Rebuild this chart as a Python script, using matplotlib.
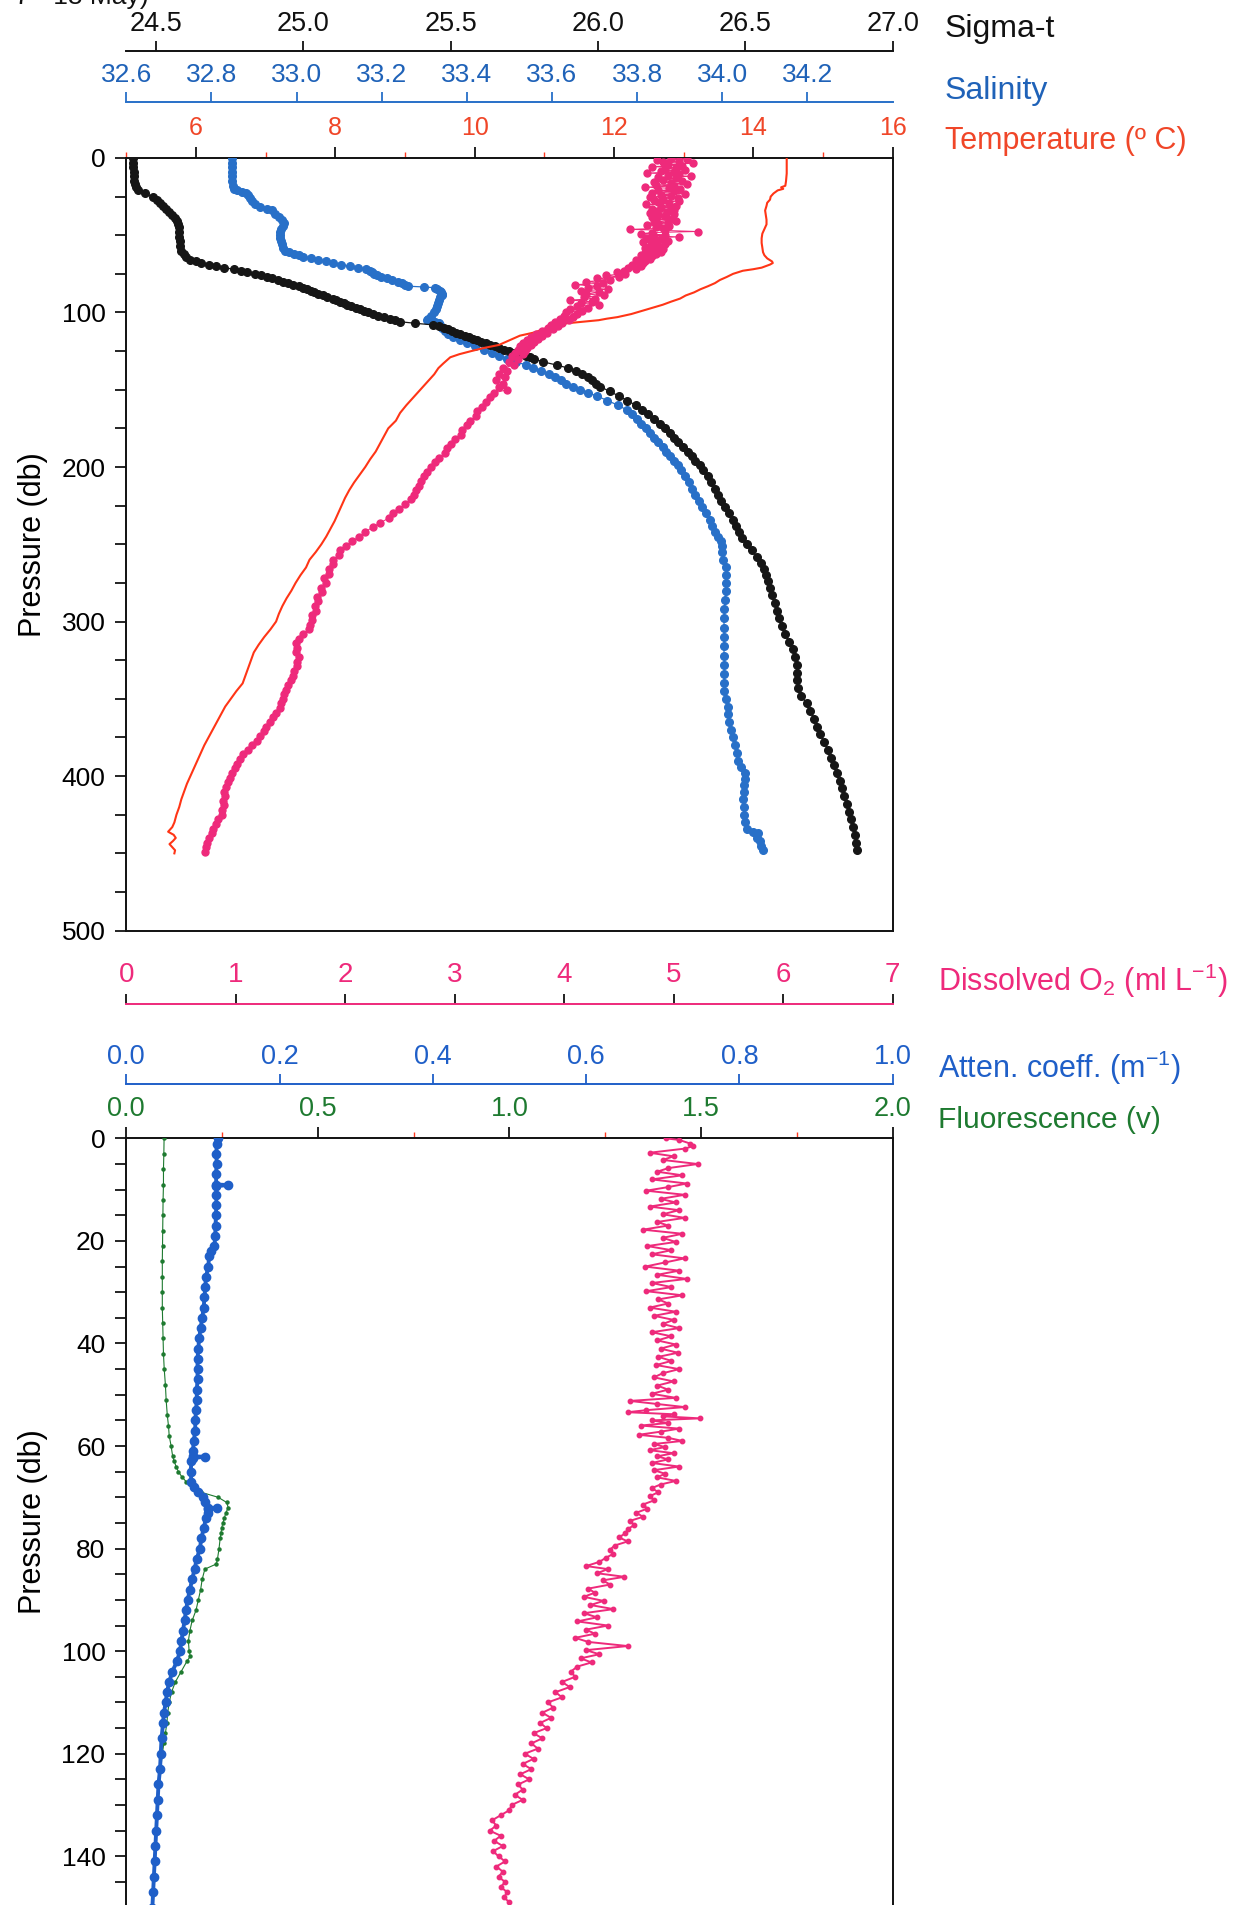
import matplotlib
matplotlib.use("Agg")
import matplotlib.pyplot as plt

plt.rcParams['font.family'] = ['Liberation Sans', 'DejaVu Sans']
plt.rcParams['mathtext.fontset'] = 'custom'
plt.rcParams['mathtext.rm'] = 'Liberation Sans'
plt.rcParams['mathtext.it'] = 'Liberation Sans:italic'

# ---------------- DATA (top panel: 0-450 db) ----------------
sigma_p = [0, 3, 6, 9, 12, 15, 17, 19, 21, 23, 25, 27, 29, 31, 33, 35, 37, 39, 41, 43, 45, 48, 51, 54, 57, 60, 62, 64, 66,
           67, 68, 69, 70, 71, 72, 73, 74, 75, 76, 77, 78, 79, 80, 81, 82, 83, 84, 85, 86, 87, 88, 89, 90, 91, 92, 93, 94,
           95, 96, 97, 98, 99, 100, 101, 102, 103, 104, 105, 106, 107, 108, 109, 110, 111, 112, 113, 114, 115, 116, 117,
           118, 119, 120, 121, 122, 123, 124, 125, 126, 127, 128, 129, 130, 132, 134, 136, 138, 140, 142, 144, 146, 148,
           151, 154, 157, 160, 163, 166, 169, 172, 175, 178, 181, 184, 187, 190, 193, 196, 199, 202, 206, 210, 214, 218,
           222, 226, 230, 234, 238, 242, 246, 250, 254, 258, 262, 266, 270, 274, 278, 283, 288, 293, 298, 303, 308, 313,
           318, 323, 328, 333, 338, 343, 348, 353, 358, 363, 368, 373, 378, 383, 388, 393, 398, 403, 408, 413, 418, 423,
           428, 433, 438, 443, 448]
sigma_v = [24.424, 24.424, 24.424, 24.425, 24.425, 24.426, 24.428, 24.432, 24.440, 24.462, 24.490, 24.505, 24.515, 24.525,
           24.535, 24.545, 24.556, 24.565, 24.571, 24.575, 24.578, 24.579, 24.580, 24.581, 24.582, 24.586, 24.595, 24.604,
           24.616, 24.635, 24.655, 24.680, 24.705, 24.730, 24.765, 24.790, 24.810, 24.835, 24.858, 24.876, 24.895, 24.915,
           24.932, 24.950, 24.965, 24.985, 25.000, 25.012, 25.025, 25.037, 25.052, 25.067, 25.082, 25.100, 25.112, 25.125,
           25.138, 25.150, 25.163, 25.178, 25.192, 25.205, 25.220, 25.238, 25.255, 25.275, 25.295, 25.312, 25.330, 25.380,
           25.440, 25.460, 25.478, 25.492, 25.505, 25.518, 25.532, 25.548, 25.562, 25.575, 25.590, 25.605, 25.620, 25.635,
           25.650, 25.665, 25.680, 25.698, 25.716, 25.735, 25.755, 25.770, 25.782, 25.815, 25.860, 25.900, 25.925, 25.945,
           25.965, 25.980, 25.995, 26.007, 26.040, 26.070, 26.100, 26.128, 26.150, 26.170, 26.190, 26.211, 26.228, 26.244,
           26.258, 26.273, 26.290, 26.305, 26.318, 26.330, 26.345, 26.358, 26.372, 26.385, 26.397, 26.408, 26.418, 26.432,
           26.445, 26.458, 26.468, 26.478, 26.490, 26.505, 26.522, 26.539, 26.553, 26.565, 26.572, 26.578, 26.584, 26.592,
           26.600, 26.607, 26.615, 26.624, 26.635, 26.648, 26.662, 26.670, 26.675, 26.675, 26.676, 26.680, 26.690, 26.708,
           26.720, 26.735, 26.745, 26.755, 26.768, 26.780, 26.790, 26.800, 26.810, 26.820, 26.828, 26.836, 26.844, 26.852,
           26.860, 26.867, 26.872, 26.875, 26.878]

sal_p = [0, 3, 6, 9, 12, 15, 18, 20, 21, 22, 23, 24, 26, 28, 30, 32, 33, 34, 36, 38, 40, 42, 44, 46, 48, 50, 52, 54, 56,
         58, 60, 61, 62, 63, 64, 65, 66, 67, 68, 69, 70, 71, 72, 73, 74, 75, 76, 77, 78, 79, 80, 81, 82, 83, 83.5, 84,
         85, 86, 87, 88, 89, 90, 92, 94, 96, 98, 100, 102, 104, 105, 106, 107, 108, 110, 112, 114, 116, 118, 120, 122,
         124, 126, 128, 130, 132, 134, 136, 138, 140, 142, 144, 146, 148, 150, 152, 154, 157, 160, 163, 166, 169, 172,
         175, 178, 181, 184, 187, 190, 193, 196, 199, 202, 206, 210, 214, 218, 222, 226, 230, 234, 238, 242, 245, 248,
         251, 255, 260, 265, 270, 275, 280, 286, 292, 298, 304, 310, 316, 322, 328, 334, 340, 345, 350, 355, 360, 365,
         370, 375, 380, 385, 390, 394, 398, 402, 406, 410, 415, 420, 425, 430, 434, 436, 437, 440, 442, 445, 448]
sal_v = [32.848, 32.848, 32.848, 32.849, 32.849, 32.849, 32.850, 32.852, 32.860, 32.872, 32.880, 32.885, 32.890, 32.896,
         32.902, 32.915, 32.930, 32.942, 32.950, 32.958, 32.965, 32.970, 32.968, 32.963, 32.961, 32.960, 32.961, 32.963,
         32.965, 32.968, 32.972, 32.982, 32.995, 33.005, 33.015, 33.035, 33.050, 33.068, 33.086, 33.105, 33.125, 33.145,
         33.162, 33.172, 33.178, 33.183, 33.188, 33.198, 33.212, 33.225, 33.238, 33.247, 33.255, 33.262, 33.300, 33.325,
         33.330, 33.336, 33.340, 33.341, 33.341, 33.338, 33.335, 33.333, 33.330, 33.327, 33.322, 33.315, 33.308, 33.306,
         33.325, 33.335, 33.338, 33.342, 33.348, 33.355, 33.368, 33.385, 33.400, 33.420, 33.440, 33.460, 33.476, 33.495,
         33.515, 33.540, 33.556, 33.575, 33.592, 33.608, 33.622, 33.634, 33.650, 33.666, 33.685, 33.705, 33.730, 33.755,
         33.775, 33.788, 33.800, 33.810, 33.820, 33.830, 33.840, 33.850, 33.860, 33.868, 33.877, 33.886, 33.895, 33.903,
         33.913, 33.921, 33.928, 33.936, 33.946, 33.952, 33.962, 33.970, 33.976, 33.982, 33.990, 33.996, 33.999, 34.000,
         34.002, 34.008, 34.009, 34.009, 34.008, 34.006, 34.005, 34.004, 34.004, 34.004, 34.004, 34.004, 34.005, 34.004,
         34.004, 34.005, 34.009, 34.014, 34.014, 34.015, 34.020, 34.025, 34.030, 34.034, 34.036, 34.045, 34.053, 34.053,
         34.052, 34.050, 34.049, 34.050, 34.051, 34.054, 34.057, 34.073, 34.085, 34.082, 34.088, 34.092, 34.096]

temp_p = [0, 5, 10, 15, 18, 19, 20, 21, 23, 25, 27, 29, 31, 34, 37, 40, 43, 46, 49, 52, 55, 58, 61, 63, 65, 67, 68, 69,
          70, 71, 72, 73, 75, 77, 79, 81, 83, 85, 87, 89, 91, 93, 95, 97, 99, 101, 103, 104, 105, 106, 107, 108, 109,
          111, 113, 115, 117, 119, 121, 123, 125, 127, 129, 131, 133, 136, 140, 145, 150, 155, 160, 165, 170, 175, 180,
          185, 190, 195, 200, 205, 210, 215, 220, 225, 230, 235, 240, 245, 250, 255, 260, 265, 270, 275, 280, 285, 290,
          295, 300, 305, 310, 315, 320, 325, 330, 335, 340, 345, 350, 355, 360, 365, 370, 375, 380, 385, 390, 395, 400,
          405, 410, 415, 420, 425, 430, 433, 436, 438, 440, 442, 444, 446, 448, 450]
temp_v = [14.48, 14.48, 14.48, 14.47, 14.46, 14.40, 14.43, 14.35, 14.29, 14.25, 14.24, 14.20, 14.19, 14.17, 14.18, 14.19,
          14.19, 14.16, 14.13, 14.12, 14.12, 14.13, 14.14, 14.16, 14.20, 14.27, 14.28, 14.24, 14.18, 14.12, 14.00, 13.85,
          13.71, 13.62, 13.52, 13.45, 13.35, 13.24, 13.15, 13.03, 12.95, 12.82, 12.70, 12.55, 12.40, 12.25, 12.05, 11.90,
          11.78, 11.55, 11.32, 11.18, 11.08, 10.98, 10.85, 10.65, 10.55, 10.45, 10.35, 10.13, 9.95, 9.78, 9.65, 9.60, 9.55,
          9.48, 9.42, 9.32, 9.22, 9.12, 9.02, 8.93, 8.87, 8.76, 8.70, 8.64, 8.58, 8.50, 8.43, 8.35, 8.27, 8.20, 8.14, 8.09,
          8.04, 7.99, 7.93, 7.87, 7.80, 7.72, 7.63, 7.58, 7.50, 7.43, 7.37, 7.30, 7.24, 7.19, 7.15, 7.07, 6.98, 6.90, 6.83,
          6.79, 6.75, 6.71, 6.67, 6.58, 6.50, 6.42, 6.36, 6.30, 6.24, 6.18, 6.12, 6.07, 6.02, 5.97, 5.92, 5.87, 5.83, 5.79,
          5.76, 5.72, 5.69, 5.66, 5.60, 5.68, 5.71, 5.67, 5.62, 5.66, 5.70, 5.69]

oxy_p = [0, 0.7, 1.4, 2.1, 2.8, 3.5, 4.2, 4.9, 5.6, 6.3, 7.0, 7.7, 8.4, 9.1, 9.8, 10.5, 11.2, 11.9, 12.6, 13.3, 14.0, 14.7,
         15.4, 16.1, 16.8, 17.5, 18.2, 18.9, 19.6, 20.3, 21.0, 21.7, 22.4, 23.1, 23.8, 24.5, 25.2, 25.9, 26.6, 27.3, 28.0,
         28.7, 29.4, 30.1, 30.8, 31.5, 32.2, 32.9, 33.6, 34.3, 35.0, 35.7, 36.4, 37.1, 37.8, 38.5, 39.2, 39.9, 40.6, 41.3,
         42.0, 42.7, 43.4, 44.1, 44.8, 45.5, 46.2, 46.9, 47.6, 48.3, 49.0, 49.7, 50.4, 51.1, 51.8, 52.5, 53.2, 53.9, 54.6,
         55.3, 56.0, 56.7, 57.4, 58.1, 58.8, 59.5, 60.2, 60.9, 61.6, 62.3, 63.0, 63.7, 64.4, 65.1, 65.8, 66.5, 67.2, 68,
         69, 70, 71, 72, 73, 74, 75, 76, 77, 78, 79, 80, 81, 82, 83, 84, 85, 86, 87, 88, 89, 90, 91, 92, 93, 94, 95, 96,
         97, 98, 99, 100, 101, 102, 103, 104, 105, 106, 107, 108, 109, 110, 111, 112, 113, 114, 115, 116, 117, 118, 119,
         120, 121, 122, 123, 124, 125, 126, 127, 128, 130, 132, 134, 136, 138, 140, 142, 144, 146, 148, 150, 152, 155,
         158, 161, 164, 167, 170, 173, 176, 179, 182, 185, 188, 191, 194, 197, 200, 203, 206, 209, 212, 215, 218, 221,
         224, 227, 230, 233, 236, 239, 242, 245, 248, 251, 254, 257, 260, 263, 266, 269, 272, 275, 278, 281, 284, 287,
         290, 293, 296, 299, 302, 305, 308, 311, 314, 317, 320, 323, 326, 329, 332, 335, 338, 341, 344, 347, 350, 353,
         356, 359, 362, 365, 368, 371, 374, 377, 380, 383, 386, 389, 392, 395, 398, 401, 404, 407, 410, 413, 416, 419,
         422, 425, 428, 431, 434, 437, 440, 443, 446, 449]
oxy_v = [4.98, 5.12, 4.85, 5.05, 4.90, 5.18, 4.95, 5.08, 4.80, 5.02, 4.92, 5.10, 4.88, 5.00, 4.76, 5.05, 4.95, 5.16, 4.86,
         5.02, 4.90, 5.08, 4.82, 4.98, 5.12, 4.84, 5.00, 4.74, 4.96, 5.06, 4.86, 5.00, 4.80, 5.10, 4.88, 4.98, 4.78, 5.04,
         4.90, 4.82, 5.05, 4.86, 4.96, 4.75, 5.02, 4.88, 4.98, 4.80, 5.00, 4.85, 4.94, 4.78, 5.00, 4.86, 4.92, 4.80, 4.98,
         4.84, 5.02, 4.82, 4.95, 4.86, 4.76, 4.96, 4.84, 4.90, 4.60, 4.92, 5.22, 4.80, 4.70, 4.92, 4.82, 5.05, 4.75, 4.88,
         4.80, 4.95, 4.72, 4.85, 4.92, 4.78, 4.86, 4.74, 4.90, 4.80, 4.76, 4.88, 4.74, 4.84, 4.70, 4.80, 4.72, 4.78, 4.66,
         4.74, 4.68, 4.72, 4.62, 4.70, 4.58, 4.66, 4.55, 4.48, 4.56, 4.38, 4.50, 4.30, 4.42, 4.20, 4.35, 4.10, 4.30, 4.22,
         4.40, 4.15, 4.32, 4.20, 4.36, 4.18, 4.28, 4.05, 4.25, 4.15, 4.32, 4.12, 4.22, 4.05, 4.16, 4.02, 4.12, 4.00, 4.08,
         3.96, 4.04, 3.92, 3.98, 3.88, 3.94, 3.85, 3.90, 3.80, 3.84, 3.74, 3.80, 3.70, 3.76, 3.66, 3.72, 3.62, 3.70, 3.60,
         3.66, 3.58, 3.64, 3.55, 3.62, 3.52, 3.58, 3.50, 3.54, 3.44, 3.48, 3.40, 3.46, 3.38, 3.44, 3.40, 3.48, 3.36, 3.32,
         3.29, 3.25, 3.20, 3.19, 3.14, 3.11, 3.07, 3.06, 3.00, 2.97, 2.93, 2.91, 2.86, 2.82, 2.78, 2.75, 2.72, 2.69, 2.67,
         2.65, 2.63, 2.60, 2.55, 2.49, 2.44, 2.40, 2.32, 2.25, 2.18, 2.13, 2.06, 2.01, 1.95, 1.94, 1.89, 1.89, 1.85, 1.85,
         1.81, 1.82, 1.78, 1.79, 1.74, 1.75, 1.72, 1.73, 1.70, 1.70, 1.68, 1.67, 1.61, 1.58, 1.55, 1.56, 1.55, 1.58, 1.56,
         1.56, 1.53, 1.52, 1.50, 1.48, 1.46, 1.44, 1.43, 1.41, 1.40, 1.37, 1.34, 1.31, 1.28, 1.26, 1.22, 1.19, 1.15, 1.11,
         1.07, 1.04, 1.01, 0.99, 0.97, 0.95, 0.93, 0.91, 0.89, 0.90, 0.88, 0.89, 0.87, 0.87, 0.84, 0.82, 0.79, 0.78, 0.76,
         0.74, 0.73, 0.72]

# ---------------- DATA (bottom panel: 0-150 db) ----------------
oxy2_p = [0.0, 0.3, 1.0, 1.5, 2.0, 2.8, 3.5, 4.2, 5.0, 5.8, 6.5, 7.2, 8.0, 8.8, 9.5, 10.2, 11.0, 11.8, 12.5, 13.3, 14.0,
          14.8, 15.5, 16.3, 17.0, 17.8, 18.6, 19.4, 20.2, 21.0, 21.8, 22.6, 23.4, 24.2, 25.0, 25.8, 26.6, 27.4, 28.2, 29.0,
          29.8, 30.6, 31.4, 32.2, 33.0, 33.8, 34.6, 35.4, 36.2, 37.0, 37.8, 38.6, 39.4, 40.2, 41.0, 41.8, 42.6, 43.4, 44.2,
          45.0, 45.8, 46.6, 47.4, 48.2, 49.0, 49.8, 50.6, 51.2, 51.8, 52.4, 53.0, 53.4, 53.8, 54.2, 54.6, 55.0, 55.5, 56.0,
          56.6, 57.2, 57.8, 58.4, 59.0, 59.6, 60.2, 60.8, 61.4, 62.0, 62.6, 63.3, 64.0, 64.7, 65.4, 66.1, 66.8, 67.5, 68.2,
          69.0, 69.8, 70.6, 71.4, 72.2, 73.0, 73.8, 74.6, 75.4, 76.2, 77.0, 77.8, 78.6, 79.4, 80.2, 81.0, 81.8, 82.6, 83.4,
          84.0, 84.8, 85.5, 86.2, 87.0, 87.8, 88.6, 89.4, 90.2, 91.0, 91.8, 92.6, 93.4, 94.2, 95.0, 95.8, 96.6, 97.4, 98.2,
          99.0, 99.8, 100.6, 101.4, 102.2, 103.0, 104, 105, 106, 107, 108, 109, 110, 111, 112, 113, 114, 115, 116, 117, 118,
          119, 120, 121, 122, 123, 124, 125, 126, 127, 128, 129, 130, 131, 132, 133, 134, 135, 136, 137, 138, 139, 140, 141,
          142, 143, 144, 145, 146, 147, 148, 149]
oxy2_v = [4.93, 5.05, 5.15, 5.18, 5.10, 4.78, 5.00, 4.90, 5.22, 4.95, 4.85, 5.08, 4.80, 5.12, 4.95, 4.75, 5.10, 4.88,
          5.02, 4.78, 5.05, 4.90, 5.10, 4.85, 4.95, 4.72, 5.08, 4.90, 5.02, 4.76, 4.98, 4.80, 5.10, 4.92, 4.74, 5.05, 4.85,
          5.12, 4.80, 4.98, 4.75, 5.08, 4.86, 4.95, 4.78, 5.02, 4.82, 5.00, 4.90, 5.05, 4.80, 4.98, 4.85, 5.02, 4.88, 5.04,
          4.86, 4.98, 4.84, 5.05, 4.90, 4.82, 5.00, 4.85, 4.95, 4.80, 5.02, 4.60, 4.85, 5.10, 4.75, 4.58, 5.00, 4.90, 5.24,
          4.80, 4.95, 4.70, 5.05, 4.88, 4.68, 4.95, 5.08, 4.82, 4.92, 4.78, 5.00, 4.85, 4.95, 4.80, 5.05, 4.82, 4.92, 4.85,
          5.02, 4.88, 4.80, 4.86, 4.78, 4.82, 4.72, 4.76, 4.66, 4.72, 4.60, 4.64, 4.58, 4.56, 4.50, 4.58, 4.46, 4.42, 4.45,
          4.38, 4.32, 4.20, 4.40, 4.30, 4.55, 4.35, 4.42, 4.22, 4.28, 4.18, 4.36, 4.24, 4.45, 4.18, 4.30, 4.12, 4.40, 4.20,
          4.28, 4.10, 4.22, 4.58, 4.20, 4.32, 4.15, 4.25, 4.12, 4.06, 4.10, 3.98, 4.05, 3.92, 3.98, 3.85, 3.90, 3.80, 3.88,
          3.78, 3.84, 3.72, 3.80, 3.70, 3.76, 3.64, 3.72, 3.62, 3.70, 3.60, 3.68, 3.58, 3.62, 3.55, 3.62, 3.52, 3.50, 3.42,
          3.34, 3.38, 3.32, 3.42, 3.36, 3.44, 3.35, 3.40, 3.46, 3.38, 3.44, 3.40, 3.46, 3.42, 3.48, 3.45, 3.50]

atten_p = [0, 1, 3, 5, 7, 9, 9.1, 9.3, 11, 13, 15, 17, 19, 21, 22, 23, 25, 27, 29, 31, 33, 35, 37, 39, 41, 43, 45, 47, 49,
           51, 53, 55, 57, 59, 61, 62, 62.1, 62.3, 63, 65, 67, 68, 69, 70, 71, 72, 72.1, 72.3, 73, 74, 76, 78, 80, 82, 84,
           86, 88, 90, 92, 94, 96, 98, 100, 102, 104, 106, 108, 110, 112, 114, 117, 120, 123, 126, 129, 132, 135, 138, 141,
           144, 147, 150]
atten_v = [0.1197, 0.118, 0.1175, 0.118, 0.117, 0.1175, 0.133, 0.1175, 0.1175, 0.1175, 0.117, 0.1165, 0.116, 0.115, 0.110,
           0.108, 0.107, 0.104, 0.103, 0.102, 0.101, 0.099, 0.097, 0.095, 0.094, 0.093, 0.093, 0.093, 0.092, 0.092, 0.091,
           0.090, 0.090, 0.088, 0.087, 0.087, 0.103, 0.087, 0.085, 0.084, 0.085, 0.088, 0.093, 0.100, 0.103, 0.107, 0.118,
           0.107, 0.106, 0.104, 0.101, 0.098, 0.096, 0.092, 0.089, 0.086, 0.083, 0.080, 0.078, 0.076, 0.074, 0.072, 0.070,
           0.066, 0.060, 0.056, 0.053, 0.0515, 0.049, 0.048, 0.046, 0.045, 0.044, 0.042, 0.041, 0.040, 0.039, 0.038, 0.037,
           0.036, 0.035, 0.034]

fluor_p = [0, 3, 6, 9, 12, 15, 18, 21, 24, 27, 30, 33, 36, 39, 42, 45, 48, 51, 54, 56, 58, 60, 62, 63, 64, 65, 66, 67, 68,
           69, 70, 71, 72, 73, 74, 75, 76, 77, 78, 80, 82, 83, 84, 86, 88, 90, 92, 94, 96, 98, 100, 101, 102, 104, 106,
           108, 110, 112, 114, 116, 118, 120, 123, 126, 129, 132, 135, 138, 141, 144, 147, 150]
fluor_v = [0.0986, 0.098, 0.097, 0.097, 0.096, 0.0955, 0.095, 0.0945, 0.094, 0.094, 0.094, 0.094, 0.095, 0.096, 0.097,
           0.099, 0.102, 0.104, 0.107, 0.110, 0.112, 0.117, 0.121, 0.125, 0.130, 0.136, 0.145, 0.157, 0.172, 0.195, 0.240,
           0.262, 0.266, 0.260, 0.256, 0.252, 0.249, 0.247, 0.245, 0.242, 0.238, 0.235, 0.205, 0.198, 0.194, 0.188, 0.182,
           0.172, 0.166, 0.162, 0.164, 0.167, 0.158, 0.143, 0.128, 0.118, 0.112, 0.108, 0.106, 0.102, 0.098, 0.094, 0.090,
           0.086, 0.083, 0.080, 0.078, 0.076, 0.074, 0.072, 0.070, 0.069]

# axis ticks / labels
sigma_ticks = [24.5, 25.0, 25.5, 26.0, 26.5, 27.0]
sal_ticks = [32.6, 32.8, 33.0, 33.2, 33.4, 33.6, 33.8, 34.0, 34.2]
temp_major = [6, 8, 10, 12, 14, 16]
temp_minor = [5, 7, 9, 11, 13, 15]
oxy_ticks = [0, 1, 2, 3, 4, 5, 6, 7]
atten_ticks = [0.0, 0.2, 0.4, 0.6, 0.8, 1.0]
fluor_major = [0.0, 0.5, 1.0, 1.5, 2.0]
fluor_minor = [0.25, 0.75, 1.25, 1.75]

# colours
C_SIG = '#161616'
C_SAL = '#2870c8'
C_SAL_T = '#1f62b8'
C_TEMP = '#ff3516'
C_TEMP_T = '#f04628'
C_OXY = '#ee2a7b'
C_ATT = '#1f5fc8'
C_FLU = '#1e7a30'

W, H = 1026.0, 1568.0
def fx(x):
    return x / W
def fy(y):
    return 1 - y / H

L = fx(104)
AW = fx(735) - L

fig = plt.figure(figsize=(12.46, 19.05), dpi=100)

def scale_axis(y, lim, ticks, labels, line_c, tick_c, lab_c, fs, pad):
    ax = fig.add_axes([L, fy(y) - 0.002, AW, 0.002])
    ax.set_xlim(*lim)
    ax.set_ylim(0, 1)
    ax.patch.set_visible(False)
    for s in ['bottom', 'left', 'right']:
        ax.spines[s].set_visible(False)
    ax.spines['top'].set_color(line_c)
    ax.spines['top'].set_linewidth(1.4)
    ax.xaxis.set_ticks_position('top')
    ax.set_xticks(ticks)
    ax.set_xticklabels(labels)
    ax.tick_params(axis='x', which='major', direction='out', length=7, width=1.3,
                   color=tick_c, labelcolor=lab_c, labelsize=fs, pad=pad)
    ax.set_yticks([])
    return ax

def twin(ax, lim):
    t = ax.twiny()
    t.set_xlim(*lim)
    t.set_ylim(ax.get_ylim())
    t.xaxis.set_visible(False)
    for s in t.spines.values():
        s.set_visible(False)
    return t

# ---------- top panel ----------
y0, y1 = fy(766), fy(130)
axT = fig.add_axes([L, y0, AW, y1 - y0])
axT.set_xlim(5, 16)
axT.set_ylim(500, 0)

axS = twin(axT, (32.6, 34.4))
axS.plot(sal_v, sal_p, '-', color=C_SAL, lw=0.9, marker='o', ms=5.5, mec=C_SAL, mfc=C_SAL)
axSg = twin(axT, (24.4, 27.0))
axSg.plot(sigma_v, sigma_p, '-', color=C_SIG, lw=0.9, marker='o', ms=5.5, mec=C_SIG, mfc=C_SIG)
axTp = twin(axT, (5, 16))
axTp.plot(temp_v, temp_p, '-', color=C_TEMP, lw=1.5)
axO = twin(axT, (0, 7))
axO.plot(oxy_v, oxy_p, '-', color=C_OXY, lw=0.7, marker='o', ms=5, mec=C_OXY, mfc=C_OXY)

for s in axT.spines.values():
    s.set_linewidth(1.4)
    s.set_color('#111111')
axT.xaxis.set_ticks_position('top')
axT.xaxis.set_label_position('top')
axT.set_xticks(temp_major)
axT.set_xticklabels([str(t) for t in temp_major])
axT.set_xticks(temp_minor, minor=True)
axT.tick_params(axis='x', which='major', direction='out', length=8, width=1.3, color='#111111',
                labelcolor=C_TEMP_T, labelsize=18, pad=5, top=True, labeltop=True, bottom=False, labelbottom=False)
axT.tick_params(axis='x', which='minor', direction='out', length=4, width=1.0, color='#ff3a20',
                top=True, bottom=False)
axT.set_yticks([0, 100, 200, 300, 400, 500])
axT.set_yticks(list(range(25, 500, 25)), minor=True)
axT.tick_params(axis='y', which='both', direction='out', length=8, width=1.2, labelsize=19, pad=7)
axT.set_ylabel('Pressure (db)', fontsize=22, labelpad=10)

# scale axes above / below top panel
scale_axis(42, (24.4, 27.0), sigma_ticks, ['%.1f' % v for v in sigma_ticks], '#111111', '#111111', '#111111', 19.5, 3)
scale_axis(84, (32.6, 34.4), sal_ticks, ['%.1f' % v for v in sal_ticks], C_SAL, C_SAL, C_SAL_T, 19, 4)
scale_axis(826, (0, 7), oxy_ticks, [str(v) for v in oxy_ticks], C_OXY, '#111111', C_OXY, 20, 4.5)
scale_axis(892, (0, 1.0), atten_ticks, ['%.1f' % v for v in atten_ticks], C_ATT, C_ATT, C_ATT, 19.5, 3)

fig.text(fx(778), fy(24), 'Sigma-t', fontsize=23, color='#111111', va='center', ha='left')
fig.text(fx(778), fy(75), 'Salinity', fontsize=23, color=C_SAL_T, va='center', ha='left')
fig.text(fx(778), fy(116), 'Temperature (\u00ba C)', fontsize=22, color=C_TEMP_T, va='center', ha='left')
fig.text(fx(772), fy(807), 'Dissolved O$_2$ (ml L$^{\\mathregular{-1}}$)', fontsize=22, color=C_OXY, va='center', ha='left')
fig.text(fx(772), fy(879), 'Atten. coeff. (m$^{\\mathregular{-1}}$)', fontsize=22, color=C_ATT, va='center', ha='left')
fig.text(fx(772), fy(922), 'Fluorescence (v)', fontsize=21.5, color=C_FLU, va='center', ha='left')
fig.text(0.012, fy(3), '7 - 18 May)', fontsize=19, color='#111111', va='baseline', ha='left')

# ---------- bottom panel ----------
b1 = fy(937)
axB = fig.add_axes([L, 0.0, AW, b1])
axB.set_xlim(0, 2.0)
axB.set_ylim(149.5, 0)

axF = twin(axB, (0, 2.0))
axF.plot(fluor_v, fluor_p, '-', color=C_FLU, lw=0.8, marker='o', ms=2.2, mec=C_FLU, mfc=C_FLU)
axA = twin(axB, (0, 1.0))
axA.plot(atten_v, atten_p, '-', color=C_ATT, lw=2.8, marker='o', ms=6, mec=C_ATT, mfc=C_ATT)
axO2 = twin(axB, (0, 7))
axO2.plot(oxy2_v, oxy2_p, '-', color=C_OXY, lw=1.4, marker='o', ms=3.2, mec=C_OXY, mfc=C_OXY)

axB.spines['bottom'].set_visible(False)
for s in ['top', 'left', 'right']:
    axB.spines[s].set_linewidth(1.4)
    axB.spines[s].set_color('#111111')
axB.xaxis.set_ticks_position('top')
axB.xaxis.set_label_position('top')
axB.set_xticks(fluor_major)
axB.set_xticklabels(['%.1f' % v for v in fluor_major])
axB.set_xticks(fluor_minor, minor=True)
axB.tick_params(axis='x', which='major', direction='out', length=8, width=1.3, color='#111111',
                labelcolor=C_FLU, labelsize=19.5, pad=3.5, top=True, labeltop=True, bottom=False, labelbottom=False)
axB.tick_params(axis='x', which='minor', direction='out', length=4, width=1.0, color='#ff3a20',
                top=True, bottom=False)
axB.set_yticks(list(range(0, 150, 20)))
axB.set_yticks(list(range(5, 150, 5)), minor=True)
axB.tick_params(axis='y', which='both', direction='out', length=8, width=1.2, labelsize=19, pad=7)
axB.set_ylabel('Pressure (db)', fontsize=22, labelpad=10)

fig.savefig('out.png', dpi=100)
